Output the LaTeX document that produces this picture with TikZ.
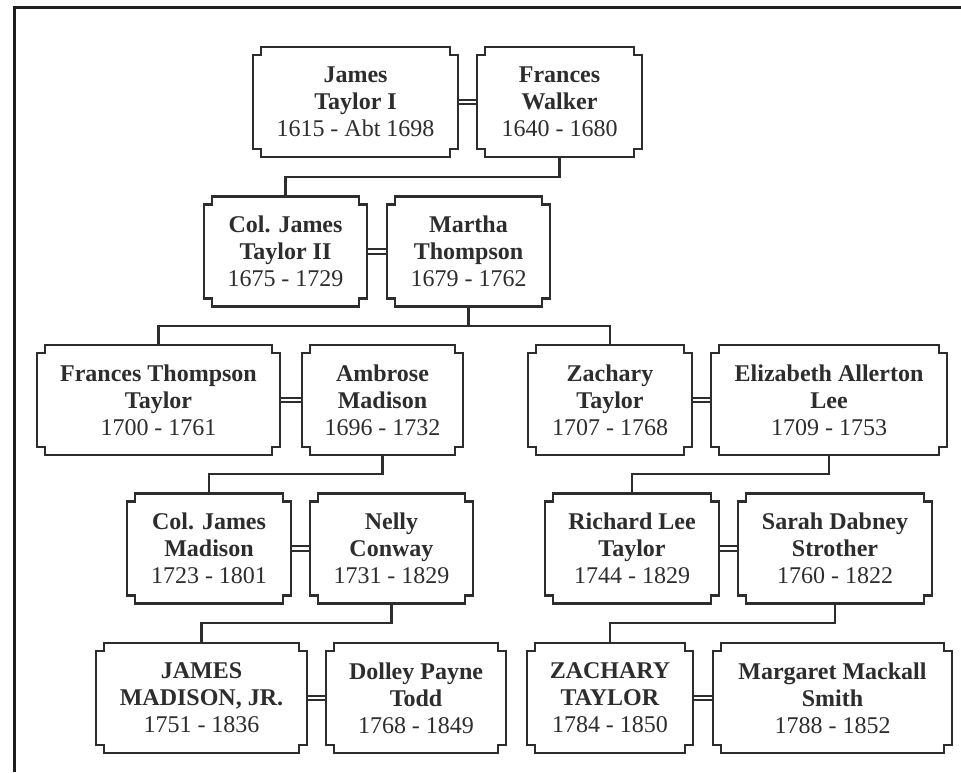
\documentclass[tikz,border=0pt]{standalone}
\usepackage{fontspec}
\setmainfont{Liberation Serif}
\usepackage{xcolor}
\usepackage{tikz}
\usetikzlibrary{positioning, calc}
\definecolor{inkgrey}{RGB}{45,45,45}
\definecolor{framegrey}{RGB}{30,30,30}
\newcommand{\famname}[3]{\textbf{#1}\\\textbf{#2}\\#3}

\begin{document}
\begin{tikzpicture}[x=1pt, y=-1pt, every node/.style={transform shape}]
		%%	page and frame
		\useasboundingbox (0,0) rectangle (961,772);
		\fill[white] (0,0) rectangle (961,772);
		\draw[framegrey, line width=3pt] (14,772) -- (14,7) -- (961,7);
		
		\tikzstyle{person}=[draw=none, minimum height=110pt, inner sep=0pt, outer sep=0pt, align=center, text=inkgrey, font=\fontsize{24}{27}\selectfont]
		\tikzstyle{boxline}=[draw=inkgrey, line width=2.4pt, line join=miter]
		\tikzstyle{kinline}=[draw=inkgrey, line width=2.2pt]
		\tikzstyle{wedline}=[draw=inkgrey, line width=1.8pt, double=white, double distance=2.6pt]
		
		%%	generation 1
		\node [person, minimum width=205pt] (jtaylor1) at (355.5,102) {\famname{James}{Taylor I}{1615 - Abt 1698}};
		\node [person, minimum width=165pt, right=19pt of jtaylor1] (fwalker) {\famname{Frances}{Walker}{1640 - 1680}};
		
		%%	generation 2
		\node [person, minimum width=163pt] (jtaylor2) at (285.5,251.5) {\famname{Col. James}{Taylor II}{1675 - 1729}};
		\node [person, minimum width=163pt, right=20pt of jtaylor2] (mthompson) {\famname{Martha}{Thompson}{1679 - 1762}};
		
		%%	generation 3
		\node [person, minimum width=243pt] (fttaylor) at (158.5,400) {\famname{Frances Thompson}{Taylor}{1700 - 1761}};
		\node [person, minimum width=161pt, right=22pt of fttaylor] (amadison) {\famname{Ambrose}{Madison}{1696 - 1732}};
		\node [person, minimum width=164pt] (ztaylor1) at (610,400) {\famname{Zachary}{Taylor}{1707 - 1768}};
		\node [person, minimum width=236pt, right=19pt of ztaylor1] (elee) {\famname{Elizabeth Allerton}{Lee}{1709 - 1753}};
		
		%%	generation 4
		\node [person, minimum width=164pt] (jmadison) at (209,548.5) {\famname{Col. James}{Madison}{1723 - 1801}};
		\node [person, minimum width=163pt, right=19pt of jmadison] (nconway) {\famname{Nelly}{Conway}{1731 - 1829}};
		\node [person, minimum width=174pt] (rltaylor) at (632,548.5) {\famname{Richard Lee}{Taylor}{1744 - 1829}};
		\node [person, minimum width=194pt, right=19pt of rltaylor] (sstrother) {\famname{Sarah Dabney}{Strother}{1760 - 1822}};
		
		%%	generation 5
		\node [person, minimum width=211pt] (jmadisonjr) at (201.5,698) {\famname{JAMES}{MADISON, JR.}{1751 - 1836}};
		\node [person, minimum width=180pt, right=19pt of jmadisonjr] (dtodd) {\famname{Dolley Payne}{Todd}{1768 - 1849}};
		\node [person, minimum width=166pt] (ztaylor2) at (610,698) {\famname{ZACHARY}{TAYLOR}{1784 - 1850}};
		\node [person, minimum width=239pt, right=20pt of ztaylor2] (msmith) {\famname{Margaret Mackall}{Smith}{1788 - 1852}};
		
		%%	descent lines
		\draw[kinline] (fwalker.south) -- ++(0pt,-20pt) -| (jtaylor2.north);
		\draw[kinline] (mthompson.south) -- ++(0pt,-19.5pt) -| (fttaylor.north);
		\draw[kinline] (mthompson.south) -- ++(0pt,-19.5pt) -| (ztaylor1.north);
		\draw[kinline] (amadison.south) -- ++(0pt,-19pt) -| (jmadison.north);
		\draw[kinline] (elee.south) -- ++(0pt,-19pt) -| (rltaylor.north);
		\draw[kinline] (nconway.south) -- ++(0pt,-19.5pt) -| (jmadisonjr.north);
		\draw[kinline] (sstrother.south) -- ++(0pt,-19.5pt) -| (ztaylor2.north);
		
		%%	marriages
		\draw[wedline] (jtaylor1.east) -- (fwalker.west);
		\draw[wedline] (jtaylor2.east) -- (mthompson.west);
		\draw[wedline] (fttaylor.east) -- (amadison.west);
		\draw[wedline] (ztaylor1.east) -- (elee.west);
		\draw[wedline] (jmadison.east) -- (nconway.west);
		\draw[wedline] (rltaylor.east) -- (sstrother.west);
		\draw[wedline] (jmadisonjr.east) -- (dtodd.west);
		\draw[wedline] (ztaylor2.east) -- (msmith.west);
		
		%%	notched outlines
		\foreach \p in {jtaylor1,fwalker,jtaylor2,mthompson,fttaylor,amadison,ztaylor1,elee,jmadison,nconway,rltaylor,sstrother,jmadisonjr,dtodd,ztaylor2,msmith}{
			\draw[boxline] ([xshift=8pt]\p.north west) -- ([xshift=-8pt]\p.north east) -- ++(0pt,-8pt) -- ++(8pt,0pt)
				-- ([yshift=8pt]\p.south east) -- ++(-8pt,0pt) -- ++(0pt,-8pt) -- ([xshift=8pt]\p.south west)
				-- ++(0pt,8pt) -- ++(-8pt,0pt) -- ([yshift=-8pt]\p.north west) -- ++(8pt,0pt) -- cycle;
		}
		
		\end{tikzpicture}
\end{document}
